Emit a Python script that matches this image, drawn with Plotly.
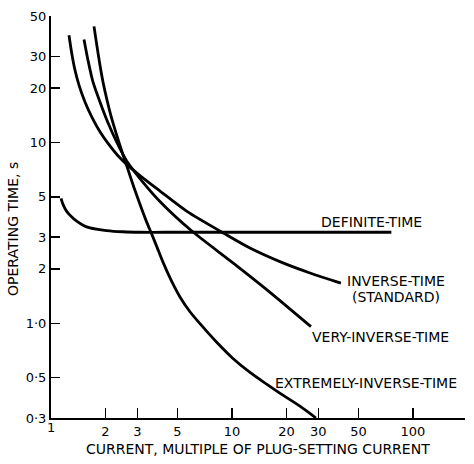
import numpy as np
import plotly.graph_objects as go

# ---- data (current multiple M, operating time t in s) ----
definite_m = [1.136, 1.165, 1.221, 1.29, 1.387, 1.503, 1.643, 2.031, 2.499, 3.102, 5.0, 10.0, 30.0, 76.0]
definite_t = [4.91, 4.55, 4.16, 3.91, 3.67, 3.49, 3.37, 3.26, 3.21, 3.19, 3.19, 3.19, 3.19, 3.19]

standard_m = [1.257, 1.306, 1.357, 1.428, 1.541, 1.685, 1.865, 2.091, 2.345, 2.63, 3.102, 4.0,
              5.641, 8.919, 12.57, 19.13, 26.98, 40.0]
standard_t = [39.1, 30.5, 25.1, 20.75, 16.74, 13.76, 11.45, 9.72, 8.45, 7.54, 6.56, 5.39,
              4.16, 3.17, 2.61, 2.16, 1.90, 1.67]

very_m = [1.522, 1.601, 1.706, 1.865, 2.065, 2.316, 2.63, 3.102, 4.0, 5.936, 10.13, 15.61, 27.32]
very_t = [37.1, 28.5, 21.6, 16.74, 12.84, 9.97, 7.84, 6.32, 4.72, 3.27, 2.16, 1.532, 0.959]

extreme_m = [1.728, 1.795, 1.865, 1.938, 2.039, 2.145, 2.286, 2.468, 2.664, 2.874, 3.102, 3.349,
             3.568, 3.852, 4.157, 4.603, 5.161, 5.861, 6.657, 8.264, 10.13, 12.57, 15.61, 19.13,
             23.75, 29.12]
extreme_t = [43.8, 34.0, 26.7, 21.6, 17.17, 14.02, 11.31, 8.89, 7.08, 5.64, 4.55, 3.71,
             3.19, 2.64, 2.18, 1.74, 1.40, 1.16, 0.997, 0.784, 0.640, 0.536, 0.4606, 0.401,
             0.3485, 0.30]

x_tickvals = [2, 3, 5, 10, 20, 30, 50, 100]
x_ticktext = ["2", "3", "5", "10", "20", "30", "50", "100"]
y_tickvals = [0.3, 0.5, 1.0, 2, 3, 5, 10, 20, 30, 50]
y_ticktext = ["0·3", "0·5", "1·0", "2", "3", "5", "10", "20", "30", "50"]

# curve labels: (text, M, t, anchor)
labels = [
    ("DEFINITE-TIME", 30.4, 3.64, "left"),
    ("INVERSE-TIME", 80.5, 1.706, "center"),
    ("(STANDARD)", 80.3, 1.408, "center"),
    ("VERY-INVERSE-TIME", 26.98, 0.838, "left"),
    ("EXTREMELY-INVERSE-TIME", 16.96, 0.4665, "left"),
]

FONT = "DejaVu Sans"
fig = go.Figure()
for m, t in [(definite_m, definite_t), (standard_m, standard_t), (very_m, very_t), (extreme_m, extreme_t)]:
    fig.add_trace(go.Scatter(x=m, y=t, mode="lines",
                             line=dict(color="black", width=2.8, shape="spline", smoothing=0.8),
                             hoverinfo="skip"))

annotations = []
for text, m, t, anchor in labels:
    annotations.append(dict(x=np.log10(m), y=np.log10(t), xref="x", yref="y", text=text,
                            showarrow=False, xanchor=anchor, yanchor="middle",
                            font=dict(family=FONT, size=14, color="black")))

# axis titles
annotations.append(dict(x=0.4988, y=-0.078, xref="paper", yref="paper",
                        text="CURRENT, MULTIPLE OF PLUG-SETTING CURRENT", showarrow=False,
                        xanchor="center", yanchor="middle",
                        font=dict(family=FONT, size=14, color="black")))
annotations.append(dict(x=-0.092, y=0.47, xref="paper", yref="paper",
                        text="OPERATING TIME, s", showarrow=False, textangle=-90,
                        xanchor="center", yanchor="middle",
                        font=dict(family=FONT, size=14, color="black")))
# the "1" label at the origin of the x axis
annotations.append(dict(x=0, y=-0.024, xref="paper", yref="paper", text="1", showarrow=False,
                        xanchor="center", yanchor="middle",
                        font=dict(family=FONT, size=13, color="black")))

fig.update_layout(
    width=474, height=464,
    margin=dict(l=51, r=9, t=13.5, b=46, pad=0),
    paper_bgcolor="white", plot_bgcolor="white",
    showlegend=False,
    hovermode=False,
    annotations=annotations,
    xaxis=dict(type="log", range=[0, np.log10(194)], showgrid=False, zeroline=False,
               showline=True, linecolor="black", linewidth=2,
               ticks="inside", ticklen=10, tickwidth=1.2, tickcolor="black",
               tickmode="array", tickvals=x_tickvals, ticktext=x_ticktext,
               ticklabeloverflow="allow",
               tickfont=dict(family=FONT, size=13, color="black")),
    yaxis=dict(type="log", range=[np.log10(0.3), np.log10(50)], showgrid=False, zeroline=False,
               showline=True, linecolor="black", linewidth=2,
               ticks="inside", ticklen=9, tickwidth=1.2, tickcolor="black",
               tickmode="array", tickvals=y_tickvals, ticktext=y_ticktext,
               ticklabeloverflow="allow",
               tickfont=dict(family=FONT, size=13, color="black")),
)

# remove the browser's default body margin so the figure fills the window exactly
fig.write_html("out.html",
               config={"displayModeBar": False, "staticPlot": True},
               post_script="document.body.style.margin='0px';document.body.style.overflow='hidden';")
